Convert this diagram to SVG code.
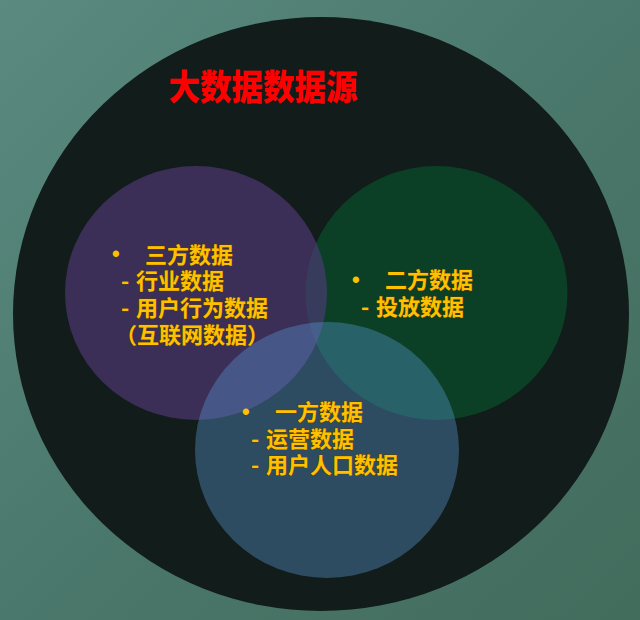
<svg xmlns="http://www.w3.org/2000/svg" width="640" height="620" viewBox="0 0 640 620">
  <defs>
    <linearGradient id="bg" x1="0" y1="0" x2="1" y2="1">
      <stop offset="0" stop-color="#5a8a80"/>
      <stop offset="0.5" stop-color="#4b786c"/>
      <stop offset="1" stop-color="#426c5c"/>
    </linearGradient>
  </defs>
  <style>
    .lbl { font-family: "Noto Sans CJK SC", "Noto Sans", sans-serif; font-weight: 700; font-size: 22px; fill: #ffc000; stroke: #5a3f00; stroke-width: 0.8px; paint-order: stroke; }
    .bul { font-family: "Liberation Sans", sans-serif; stroke: none; }
    .title { font-family: "Noto Sans CJK SC", sans-serif; font-weight: 900; font-size: 35px; fill: #ff0000; }
  </style>
  <rect width="640" height="620" fill="url(#bg)"/>
  <g id="outer">
    <ellipse cx="321" cy="314" rx="308" ry="297" fill="#121c1a"/>
    <text class="title" x="263" y="100" text-anchor="middle" textLength="189" lengthAdjust="spacingAndGlyphs">大数据数据源</text>
  </g>
  <g id="second-party">
    <ellipse cx="436.5" cy="293" rx="131" ry="127" fill="#0b4027"/>
  </g>
  <g id="third-party">
    <ellipse cx="196" cy="293" rx="131" ry="127" fill="#563a80" fill-opacity="0.6"/>
  </g>
  <g id="first-party">
    <ellipse cx="327" cy="450" rx="132" ry="128" fill="#5894ce" fill-opacity="0.4"/>
  </g>
  <g id="third-party-text">
    <text class="lbl"><tspan class="bul" x="112" y="261">•</tspan><tspan x="145" y="263">三方数据</tspan><tspan x="121" y="289">-</tspan><tspan x="136" y="289">行业数据</tspan><tspan x="121" y="316">-</tspan><tspan x="136" y="316">用户行为数据</tspan><tspan x="115" y="343">（互联网数据）</tspan></text>
  </g>
  <g id="second-party-text">
    <text class="lbl"><tspan class="bul" x="352" y="287">•</tspan><tspan x="385" y="288">二方数据</tspan><tspan x="361" y="315">-</tspan><tspan x="376" y="315">投放数据</tspan></text>
  </g>
  <g id="first-party-text">
    <text class="lbl"><tspan class="bul" x="242" y="419">•</tspan><tspan x="275" y="420">一方数据</tspan><tspan x="251" y="447">-</tspan><tspan x="266" y="447">运营数据</tspan><tspan x="251" y="473">-</tspan><tspan x="266" y="473">用户人口数据</tspan></text>
  </g>
</svg>
